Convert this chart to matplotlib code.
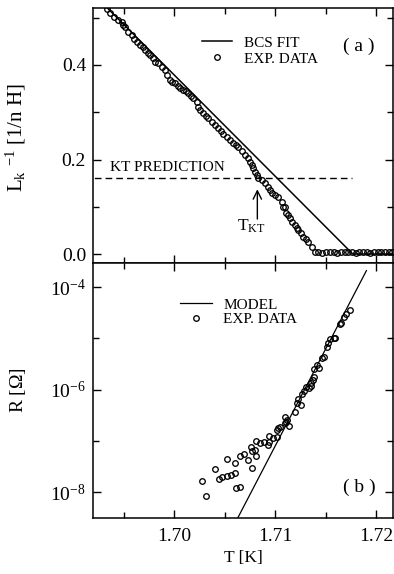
import matplotlib
matplotlib.use("Agg")
import matplotlib.pyplot as plt
from matplotlib.ticker import FixedLocator, FuncFormatter, NullFormatter
from matplotlib.lines import Line2D
import numpy as np

plt.rcParams['font.family'] = ['Liberation Serif', 'DejaVu Serif']
plt.rcParams['mathtext.fontset'] = 'custom'
plt.rcParams['mathtext.rm'] = 'Liberation Serif'
plt.rcParams['mathtext.it'] = 'Liberation Serif:italic'
plt.rcParams['mathtext.bf'] = 'Liberation Serif:bold'

# ---------------- (a) inverse kinetic inductance ----------------
T_lk = [1.69334, 1.69366, 1.69406, 1.69449, 1.69482, 1.69498, 1.69515, 1.69548,
        1.69581, 1.69605, 1.69631, 1.69663, 1.69696, 1.69713, 1.69740, 1.69762,
        1.69790, 1.69812, 1.69845, 1.69878, 1.69911, 1.69934, 1.69960, 1.69985,
        1.70010, 1.70035, 1.70059, 1.70092, 1.70118, 1.70142, 1.70168, 1.70191,
        1.70225, 1.70241, 1.70257, 1.70290, 1.70315, 1.70340, 1.70373, 1.70406,
        1.70439, 1.70465, 1.70488, 1.70522, 1.70554, 1.70587, 1.70612, 1.70637,
        1.70670, 1.70703, 1.70736, 1.70752, 1.70769, 1.70785, 1.70802, 1.70819,
        1.70835, 1.70868, 1.70901, 1.70934, 1.70950, 1.70975, 1.71000, 1.71033,
        1.71066, 1.71082, 1.71099, 1.71109, 1.71130, 1.71149, 1.71172, 1.71198,
        1.71215, 1.71231, 1.71255, 1.71280, 1.71305, 1.71330, 1.71363, 1.71396,
        1.71430, 1.71467, 1.71500, 1.71540, 1.71580, 1.71610, 1.71650, 1.71690,
        1.71720, 1.71760, 1.71800, 1.71830, 1.71870, 1.71910, 1.71940, 1.71980,
        1.72020, 1.72050, 1.72090, 1.72130, 1.72160]
inv_lk = [0.518, 0.511, 0.502, 0.495, 0.492, 0.485, 0.480, 0.470,
          0.463, 0.456, 0.449, 0.442, 0.439, 0.432, 0.426, 0.421,
          0.414, 0.407, 0.404, 0.396, 0.389, 0.379, 0.368, 0.365,
          0.361, 0.356, 0.351, 0.347, 0.344, 0.340, 0.335, 0.330,
          0.322, 0.312, 0.305, 0.298, 0.292, 0.287, 0.280, 0.273,
          0.266, 0.261, 0.255, 0.248, 0.241, 0.234, 0.231, 0.227,
          0.217, 0.210, 0.203, 0.195, 0.188, 0.181, 0.174, 0.167,
          0.160, 0.157, 0.150, 0.142, 0.135, 0.130, 0.125, 0.121,
          0.111, 0.099, 0.100, 0.087, 0.082, 0.076, 0.068, 0.061,
          0.056, 0.051, 0.044, 0.037, 0.031, 0.026, 0.015, 0.005,
          0.004, 0.003, 0.004, 0.005, 0.004, 0.003, 0.004, 0.005,
          0.004, 0.004, 0.003, 0.004, 0.005, 0.004, 0.003, 0.004,
          0.005, 0.004, 0.004, 0.005, 0.004]

# BCS fit: linear drop to zero at Tc, zero above
T_bcs = [1.6925, 1.7177, 1.7225]
inv_bcs = [0.540, 0.0, 0.0]

kt_level = 0.16
T_kt_line = [1.6900, 1.7176]
T_kt = 1.70825

# ---------------- (b) resistance ----------------
T_r = [1.7028, 1.7032, 1.7041, 1.7045, 1.7048, 1.7052, 1.7056, 1.7060,
       1.7052, 1.7060, 1.7061, 1.7065, 1.7065, 1.7069, 1.7073, 1.7077,
       1.7076, 1.7077, 1.7080, 1.7081, 1.7081, 1.7085, 1.7089, 1.7093,
       1.7094, 1.7094, 1.7098, 1.7102, 1.7102, 1.7103, 1.7105, 1.7110,
       1.7112, 1.7111, 1.7114, 1.7110, 1.7120, 1.7122, 1.7123, 1.7126,
       1.7127, 1.7129, 1.7131, 1.7134, 1.7136, 1.7136, 1.7138, 1.7139,
       1.7139, 1.7144, 1.7142, 1.7147, 1.7148, 1.7151, 1.7152, 1.7154,
       1.7158, 1.7159, 1.7164, 1.7165, 1.7168, 1.7170, 1.7174]
log_r = [-7.78, -8.07, -7.55, -7.74, -7.70, -7.68, -7.66, -7.63,
         -7.35, -7.44, -7.91, -7.89, -7.29, -7.26, -7.38, -7.53,
         -7.12, -7.20, -7.18, -7.29, -7.00, -7.05, -7.02, -7.08,
         -7.02, -6.90, -6.94, -6.93, -6.79, -6.74, -6.72, -6.66,
         -6.59, -6.63, -6.70, -6.53, -6.43, -6.27, -6.19, -6.30,
         -6.09, -6.02, -5.94, -5.97, -5.93, -5.88, -5.81, -5.75,
         -5.60, -5.58, -5.52, -5.39, -5.36, -5.16, -5.10, -5.02,
         -5.00, -5.00, -4.72, -4.70, -4.58, -4.53, -4.45]
R = [10.0 ** v for v in log_r]

T_model = [1.70600, 1.71905]
log_model = [-8.62, -3.68]
R_model = [10.0 ** v for v in log_model]

# ---------------- figure ----------------
W, H = 394, 574
fig = plt.figure(figsize=(W / 100, H / 100), dpi=100)
ax1 = fig.add_axes([93 / W, 1 - 263 / H, 300 / W, 255 / H])
ax2 = fig.add_axes([93 / W, 1 - 518 / H, 300 / W, 255 / H])

xlim = (1.69198, 1.72168)
mk = dict(marker='o', ms=4.0, mfc='none', mec='black', mew=0.95, ls='none')

# panel (a)
ax1.plot(T_bcs, inv_bcs, color='black', lw=1.1)
ax1.plot(T_lk, inv_lk, **mk)
ax1.plot(T_kt_line, [kt_level, kt_level], color='black', lw=1.0,
         dashes=(4.8, 2.9))
ax1.annotate('', xy=(T_kt, 0.137), xytext=(T_kt, 0.074),
             arrowprops=dict(arrowstyle='->,head_length=0.6,head_width=0.3',
                             lw=1.0, color='black', shrinkA=0, shrinkB=0))
ax1.text(1.70762, 0.058, r'T$_{\mathrm{KT}}$', fontsize=12.5, ha='center', va='center')
ax1.text(1.69366, 0.184, 'KT PREDICTION', fontsize=11, ha='left', va='center')
ax1.text(1.71832, 0.440, '( a )', fontsize=14, ha='center', va='center')
ax1.set_xlim(*xlim)
ax1.set_ylim(-0.019, 0.5206)
ax1.yaxis.set_major_locator(FixedLocator([0.0, 0.2, 0.4]))
ax1.yaxis.set_minor_locator(FixedLocator([0.1, 0.3, 0.5]))
ax1.yaxis.set_major_formatter(FuncFormatter(lambda v, p: f'{v:.1f}'))
ax1.set_ylabel(r'L$_{\mathrm{k}}$ $^{-1}$ [1/n H]', fontsize=15)
ax1.yaxis.set_label_coords(-0.215, 0.49)
ax1.tick_params(axis='x', labelbottom=False)

leg1 = [Line2D([], [], color='black', lw=1.1),
        Line2D([], [], **mk)]
ax1.legend(leg1, ['BCS FIT', 'EXP. DATA'], loc='upper left',
           bbox_to_anchor=(0.363, 0.89), frameon=False, fontsize=11,
           handlelength=1.96, handletextpad=0.8, labelspacing=0.15,
           borderpad=0, borderaxespad=0)

# panel (b)
ax2.set_yscale('log')
ax2.plot(T_model, R_model, color='black', lw=0.9)
ax2.plot(T_r, R, **mk)
ax2.text(1.71832, 10 ** -7.90, '( b )', fontsize=14, ha='center', va='center')
ax2.set_xlim(*xlim)
ax2.set_ylim(10 ** -8.503, 10 ** -3.532)
ax2.yaxis.set_major_locator(FixedLocator([1e-8, 1e-6, 1e-4]))
ax2.yaxis.set_minor_locator(FixedLocator([1e-7, 1e-5]))
ax2.yaxis.set_major_formatter(
    FuncFormatter(lambda v, p: r'10$^{%d}$' % int(round(np.log10(v)))))
ax2.yaxis.set_minor_formatter(NullFormatter())
ax2.set_ylabel(r'R [$\Omega$]', fontsize=14)
ax2.yaxis.set_label_coords(-0.215, 0.5)
ax2.set_xlabel('T [K]', fontsize=12.5)

leg2 = [Line2D([], [], color='black', lw=0.9),
        Line2D([], [], **mk)]
ax2.legend(leg2, ['MODEL', 'EXP. DATA'], loc='upper left',
           bbox_to_anchor=(0.29, 0.863), frameon=False, fontsize=11,
           handlelength=2.1, handletextpad=0.72, labelspacing=0.05,
           borderpad=0, borderaxespad=0)

for ax in (ax1, ax2):
    ax.xaxis.set_major_locator(FixedLocator([1.70, 1.71, 1.72]))
    ax.xaxis.set_minor_locator(FixedLocator([1.695, 1.705, 1.715]))
    ax.xaxis.set_major_formatter(FuncFormatter(lambda v, p: f'{v:.2f}'))
    ax.tick_params(which='both', direction='in', top=True, right=True,
                   width=1.0, labelsize=14)
    ax.tick_params(which='major', length=6)
    ax.tick_params(which='minor', length=4)
    ax.tick_params(axis='y', pad=5)
    ax.tick_params(axis='x', pad=7)
    for s in ax.spines.values():
        s.set_linewidth(1.1)

fig.savefig('out.png', dpi=100)
